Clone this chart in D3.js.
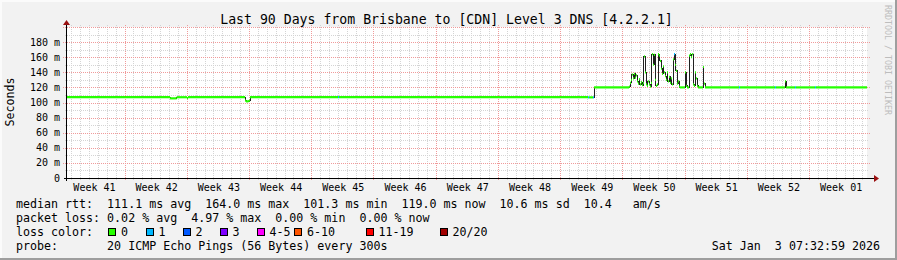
<!DOCTYPE html>
<html>
<head>
<meta charset="utf-8">
<script src="https://cdn.jsdelivr.net/npm/d3@7"></script>
<style>
  html, body { margin: 0; padding: 0; background: #f2f2f2; }
  text { font-family: "DejaVu Sans Mono", monospace; white-space: pre; }
</style>
</head>
<body>
<div id="chart"></div>
<script>
// ---------------------------------------------------------------------------
// DATA
// ---------------------------------------------------------------------------
const titleText = "Last 90 Days from Brisbane to [CDN] Level 3 DNS [4.2.2.1]";
const yAxisTitle = "Seconds";

const weekLabels = ["Week 41", "Week 42", "Week 43", "Week 44", "Week 45", "Week 46", "Week 47",
                    "Week 48", "Week 49", "Week 50", "Week 51", "Week 52", "Week 01"];
const yTicks = [0, 20, 40, 60, 80, 100, 120, 140, 160, 180];
const yTickLabels = ["0", "20 m", "40 m", "60 m", "80 m", "100 m", "120 m", "140 m", "160 m", "180 m"];

// sample time in days since the start of the 90 day window, median rtt (ms), lost pings of 20
const sampleDay = [
  0.00, 11.59, 12.34, 13.50, 13.61, 20.03, 20.14, 20.37, 20.48, 20.59,
  30.49, 30.60, 58.61, 58.73, 59.18, 59.29,
  63.23, 63.34, 63.45, 63.56, 63.68, 63.79, 63.90, 64.01, 64.13, 64.24,
  64.35, 64.46, 64.58, 64.69, 64.80, 64.91, 65.03, 65.14, 65.25, 65.36,
  65.48, 65.59, 65.70, 65.81, 65.93, 66.04, 66.15, 66.26, 66.38, 66.49,
  66.60, 66.71, 66.83, 66.94, 67.05, 67.16, 67.28, 67.39, 67.50, 67.61,
  67.73, 67.84, 67.95, 68.06, 68.18, 68.29, 68.40, 68.51, 68.63, 68.74,
  68.85, 68.96, 69.53, 69.64, 69.75, 69.98, 70.09, 70.20, 70.31, 70.43,
  70.54, 70.65, 70.76, 70.88, 70.99, 71.55, 71.66, 71.78,
  75.60, 75.71, 79.65, 79.76, 80.78, 80.89, 81.90, 82.01, 84.15, 84.26
];
const medianMs = [
  107, 105.5, 107, 105.8, 107, 102.5, 101.5, 101.8, 102.5, 107,
  107, 107, 106.8, 106.8, 106.8, 120,
  121, 126, 130, 137, 132, 138, 133, 136, 128, 125,
  131, 124, 127, 123, 126, 161, 140, 124, 122, 128,
  124, 121, 126, 164, 150, 163, 130, 122, 124, 164,
  162, 155, 145, 138, 148, 140, 135, 130, 140, 128,
  134, 126, 132, 124, 157, 164, 150, 142, 125, 128,
  121, 120, 140, 122, 120, 162, 164, 160, 164, 124,
  122, 140, 132, 122, 120, 147, 125, 120,
  120, 120, 120, 120, 128, 120, 120, 120, 120, 120
];
const lossPings = [
  0, 0, 0, 0, 0, 0, 0, 0, 0, 0,
  1, 0, 1, 0, 1, 0,
  0, 0, 0, 0, 0, 0, 0, 0, 0, 0,
  0, 0, 0, 0, 0, 0, 0, 0, 0, 0,
  0, 0, 0, 0, 0, 0, 0, 0, 0, 0,
  0, 0, 0, 0, 0, 0, 0, 0, 0, 0,
  0, 0, 0, 0, 0, 1, 0, 0, 0, 0,
  0, 0, 0, 0, 0, 0, 0, 0, 0, 0,
  0, 0, 0, 0, 0, 0, 0, 0,
  1, 0, 1, 0, 0, 0, 1, 0, 1, 0
];

const lossNames = ["0", "1", "2", "3", "4-5", "6-10", "11-19", "20/20"];
const lossColors = ["#26ff00", "#00b8ff", "#0059ff", "#7e00ff", "#ff00ff", "#ff5500", "#ff0000", "#a10000"];

const statLines = [
  "median rtt:  111.1 ms avg  164.0 ms max  101.3 ms min  119.0 ms now  10.6 ms sd  10.4   am/s",
  "packet loss: 0.02 % avg  4.97 % max  0.00 % min  0.00 % now",
  "loss color:",
  "probe:       20 ICMP Echo Pings (56 Bytes) every 300s"
];
const stampText = "Sat Jan  3 07:32:59 2026";
const watermark = "RRDTOOL / TOBI OETIKER";

// ---------------------------------------------------------------------------
// LAYOUT
// ---------------------------------------------------------------------------
const W = 897, H = 260;
const plot = { left: 67, right: 867, top: 27, bottom: 178 };
const windowStart = new Date(2025, 9, 5, 12, 36, 0);
const windowEnd = d3.timeDay.offset(windowStart, 90);
const lossBoxX = [108, 145.5, 182.5, 219.5, 256.5, 294, 365.5, 439.5];
const legendFont = '11.65px';
const axisFont = '10px';

const svg = d3.select('#chart')
  .append('svg')
  .attr('width', W)
  .attr('height', H)
  .style('display', 'block');

// frame
svg.append('rect').attr('width', W).attr('height', H).attr('fill', '#f2f2f2');
svg.append('path').attr('d', `M1,${H} V1 H${W}`).attr('stroke', '#fbfbfb').attr('stroke-width', 2).attr('fill', 'none');
svg.append('path').attr('d', `M0,${H - 1} H${W - 1} V0`).attr('stroke', '#9e9e9e').attr('stroke-width', 2).attr('fill', 'none');

// ---------------------------------------------------------------------------
// SCALES
// ---------------------------------------------------------------------------
const x = d3.scaleTime()
  .domain([windowStart, windowEnd])
  .range([plot.left, plot.right]);

const y = d3.scaleLinear()
  .domain([0, 200])
  .range([plot.bottom, plot.top]);

const samples = sampleDay.map((d, i) => ({
  t: new Date(+windowStart + d * 864e5),
  v: medianMs[i],
  loss: lossPings[i]
}));

function lossClass(n) {
  if (n <= 3) return n;
  if (n <= 5) return 4;
  if (n <= 10) return 5;
  if (n <= 19) return 6;
  return 7;
}

// canvas
svg.append('rect')
  .attr('x', plot.left).attr('y', plot.top)
  .attr('width', plot.right - plot.left).attr('height', plot.bottom - plot.top)
  .attr('fill', '#ffffff');

// ---------------------------------------------------------------------------
// GRID
// ---------------------------------------------------------------------------
const grid = svg.append('g').attr('shape-rendering', 'crispEdges');
const snap = v => Math.round(v) + 0.5;

// minor: every 10 ms and every day
d3.range(10, 200, 20).forEach(v => {
  grid.append('line')
    .attr('x1', plot.left - 2).attr('x2', plot.right + 2)
    .attr('y1', snap(y(v))).attr('y2', snap(y(v)))
    .attr('stroke', '#d4d4d4').attr('stroke-dasharray', '1,1');
});
d3.timeDay.range(windowStart, windowEnd).forEach(d => {
  grid.append('line')
    .attr('x1', snap(x(d))).attr('x2', snap(x(d)))
    .attr('y1', plot.top - 2).attr('y2', plot.bottom + 2)
    .attr('stroke', '#d4d4d4').attr('stroke-dasharray', '1,1');
});
// major: every 20 ms and every week
yTicks.concat([200]).forEach(v => {
  if (v === 0) return;
  grid.append('line')
    .attr('x1', plot.left - 4).attr('x2', plot.right + 3)
    .attr('y1', snap(y(v))).attr('y2', snap(y(v)))
    .attr('stroke', '#f09a9a').attr('stroke-dasharray', '1,1');
});
d3.timeSunday.range(windowStart, windowEnd).forEach(d => {
  grid.append('line')
    .attr('x1', snap(x(d))).attr('x2', snap(x(d)))
    .attr('y1', plot.top - 2).attr('y2', plot.bottom + 3)
    .attr('stroke', '#f09a9a').attr('stroke-dasharray', '1,1');
});

// ---------------------------------------------------------------------------
// DATA LINES
// ---------------------------------------------------------------------------
// dark median line, then loss-coloured pieces on top of it
const stepLine = d3.line()
  .x(d => x(d.t))
  .y(d => y(d.v))
  .curve(d3.curveStepAfter);

svg.append('path')
  .datum(samples.concat([{ t: windowEnd, v: samples[samples.length - 1].v }]))
  .attr('fill', 'none')
  .attr('stroke', '#202020')
  .attr('stroke-width', 1)
  .attr('shape-rendering', 'crispEdges')
  .attr('d', stepLine);

const segLine = d3.line().x(d => x(d.t)).y(d => y(d.v));
samples.forEach((d, i) => {
  const tEnd = i + 1 < samples.length ? samples[i + 1].t : windowEnd;
  svg.append('path')
    .datum([{ t: d.t, v: d.v }, { t: tEnd, v: d.v }])
    .attr('fill', 'none')
    .attr('stroke', lossColors[lossClass(d.loss)])
    .attr('stroke-width', 2.2)
    .attr('stroke-linecap', 'butt')
    .attr('d', segLine);
});

// ---------------------------------------------------------------------------
// AXES
// ---------------------------------------------------------------------------
svg.append('line')
  .attr('x1', plot.left - 3).attr('x2', plot.right + 7)
  .attr('y1', plot.bottom + 0.5).attr('y2', plot.bottom + 0.5)
  .attr('stroke', '#000').attr('shape-rendering', 'crispEdges');
svg.append('line')
  .attr('x1', plot.left - 0.5).attr('x2', plot.left - 0.5)
  .attr('y1', plot.bottom + 3).attr('y2', plot.top - 4)
  .attr('stroke', '#000').attr('shape-rendering', 'crispEdges');
svg.append('path')
  .attr('d', `M${plot.right + 7},${plot.bottom - 3} L${plot.right + 12},${plot.bottom + 0.5} L${plot.right + 7},${plot.bottom + 4} Z`)
  .attr('fill', '#9a1010');
svg.append('path')
  .attr('d', `M${plot.left - 4},${plot.top - 2} L${plot.left - 0.5},${plot.top - 7} L${plot.left + 3},${plot.top - 2} Z`)
  .attr('fill', '#9a1010');

// y tick labels
svg.append('g')
  .selectAll('text')
  .data(yTicks)
  .join('text')
  .attr('x', 60)
  .attr('y', d => y(d) + 3.5)
  .attr('text-anchor', 'end')
  .style('font-size', axisFont)
  .text((d, i) => yTickLabels[i]);

// week labels, centred on the middle of each Sunday-based week
const labelDates = d3.timeSunday.range(d3.timeSunday.floor(windowStart), windowEnd)
  .map(d => d3.timeHour.offset(d, 84));
svg.append('g')
  .selectAll('text')
  .data(labelDates)
  .join('text')
  .attr('x', d => x(d) + 1)
  .attr('y', 191)
  .attr('text-anchor', 'middle')
  .style('font-size', axisFont)
  .text((d, i) => weekLabels[i]);

// ---------------------------------------------------------------------------
// LABELS
// ---------------------------------------------------------------------------
svg.append('text')
  .attr('x', 446.5)
  .attr('y', 23.7)
  .attr('text-anchor', 'middle')
  .style('font-size', '13.2px')
  .text(titleText);

svg.append('text')
  .attr('transform', `translate(14, 102) rotate(-90)`)
  .attr('text-anchor', 'middle')
  .style('font-size', legendFont)
  .text(yAxisTitle);

svg.append('text')
  .attr('transform', `translate(885, 5) rotate(90)`)
  .attr('text-anchor', 'start')
  .style('font-size', '8.3px')
  .attr('fill', '#bdbdbd')
  .text(watermark);

// legend / statistics
const legendY = [208, 222.2, 236.2, 250.2];
statLines.forEach((s, i) => {
  svg.append('text')
    .attr('x', 16)
    .attr('y', legendY[i])
    .attr('xml:space', 'preserve')
    .style('font-size', legendFont)
    .text(s);
});

const lossLegend = svg.append('g');
lossNames.forEach((name, i) => {
  lossLegend.append('rect')
    .attr('x', lossBoxX[i] + 0.5)
    .attr('y', 228.5)
    .attr('width', 7)
    .attr('height', 7)
    .attr('fill', lossColors[i])
    .attr('stroke', '#000')
    .attr('shape-rendering', 'crispEdges');
  lossLegend.append('text')
    .attr('x', lossBoxX[i] + 13)
    .attr('y', legendY[2])
    .style('font-size', legendFont)
    .text(name);
});

svg.append('text')
  .attr('x', 880)
  .attr('y', legendY[3])
  .attr('text-anchor', 'end')
  .attr('xml:space', 'preserve')
  .style('font-size', legendFont)
  .text(stampText);
</script>
</body>
</html>
